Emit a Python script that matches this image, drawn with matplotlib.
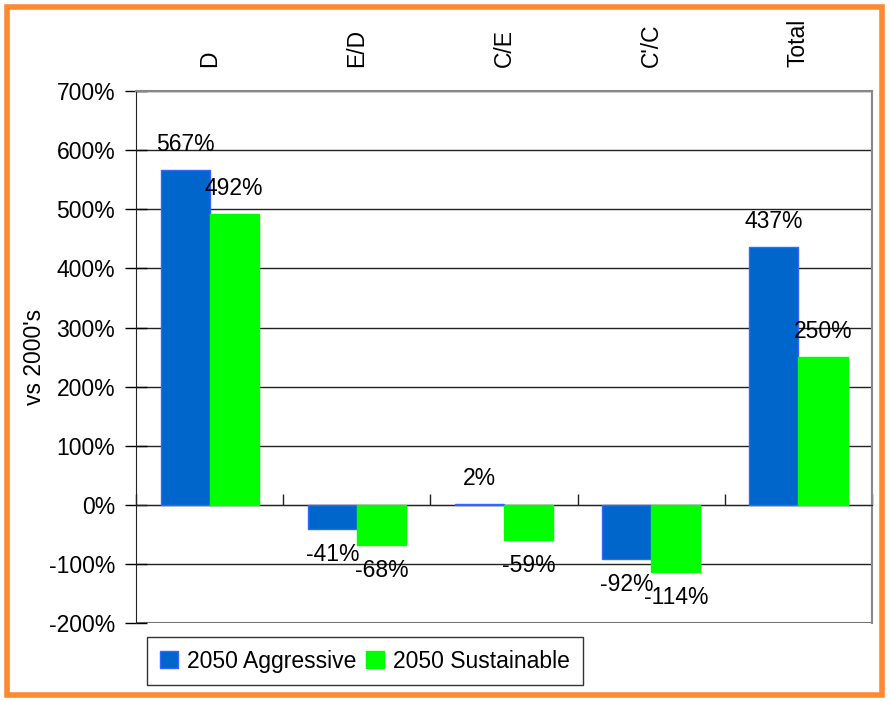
import numpy as np
import matplotlib.pyplot as plt
from matplotlib.patches import Rectangle
import matplotlib.transforms as mtransforms

categories = ['D', 'E/D', 'C/E', "C'/C", 'Total']
aggressive = [567, -41, 2, -92, 437]
sustainable = [492, -68, -59, -114, 250]
series_names = ['2050 Aggressive', '2050 Sustainable']
yticks = [-200, -100, 0, 100, 200, 300, 400, 500, 600, 700]

plt.rcParams['font.family'] = ['Liberation Sans', 'DejaVu Sans']
fs = 16.5

fig = plt.figure(figsize=(8.89, 7.01), dpi=100)
ax = fig.add_axes([0.153, 0.111, 0.828, 0.759])

x = np.arange(len(categories))
w = 1 / 3
b1 = ax.bar(x - w / 2, aggressive, w, color='#0066CC', edgecolor='#3366FF', linewidth=1,
            label=series_names[0], zorder=3)
b2 = ax.bar(x + w / 2, sustainable, w, color='#00FF00', edgecolor='#00FF00', linewidth=1,
            label=series_names[1], zorder=3)

# value labels above / below the bars
for bars, vals in [(b1, aggressive), (b2, sustainable)]:
    for r, v in zip(bars, vals):
        cx = r.get_x() + r.get_width() / 2
        if v >= 0:
            ax.annotate('%d%%' % v, (cx, v), xytext=(0, 10), textcoords='offset points',
                        ha='center', va='bottom', fontsize=fs, zorder=5)
        else:
            ax.annotate('%d%%' % v, (cx, v), xytext=(0, -10), textcoords='offset points',
                        ha='center', va='top', fontsize=fs, zorder=5)

ax.set_xlim(-0.5, len(categories) - 0.5)
ax.set_ylim(-200, 700)
ax.set_yticks(yticks)
ax.set_yticklabels(['%d%%' % t for t in yticks], fontsize=fs)
ax.tick_params(axis='y', direction='inout', length=16, width=1, pad=7)
ax.yaxis.grid(True, color='#222222', linewidth=1, zorder=0)
ax.set_ylabel("vs 2000's", fontsize=fs, labelpad=2)

# x axis line at zero, ticks between categories
ax.spines['bottom'].set_position(('data', 0))
ax.spines['bottom'].set_color('#222222')
ax.set_xticks(np.arange(len(categories) + 1) - 0.5)
ax.set_xticklabels([])
ax.tick_params(axis='x', direction='in', length=8, width=1, color='#222222')
ax.spines['left'].set_color('#222222')
ax.spines['top'].set_color('#888888')
ax.spines['right'].set_color('#888888')
ax.spines['top'].set_linewidth(1.5)
ax.spines['right'].set_linewidth(1.5)
ax.axhline(-200, color='#888888', linewidth=1.5, zorder=1)

trans = mtransforms.blended_transform_factory(ax.transData, ax.transAxes)
for i, c in enumerate(categories):
    ax.text(i, 1.045, c, transform=trans, rotation=90, ha='center', va='bottom', fontsize=fs)

leg = ax.legend(loc='upper left', bbox_to_anchor=(0.015, -0.026), borderaxespad=0, ncol=2,
                fontsize=fs, frameon=True, fancybox=False, edgecolor='black',
                handlelength=0.8, handleheight=0.8, handletextpad=0.4, columnspacing=0.4,
                borderpad=0.55)
leg.get_frame().set_linewidth(1)

# orange frame round the picture
fig.patches.append(Rectangle((0.008, 0.008), 0.984, 0.982, transform=fig.transFigure,
                             fill=False, edgecolor='#FF8833', linewidth=4))

fig.savefig('out.png', dpi=100)
